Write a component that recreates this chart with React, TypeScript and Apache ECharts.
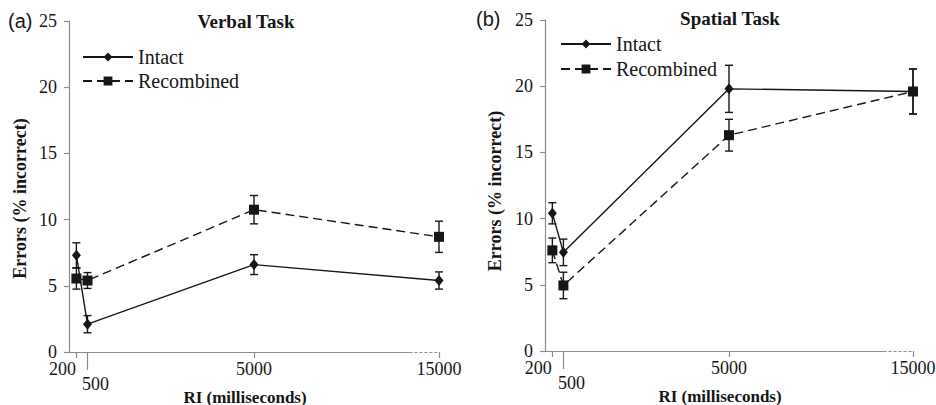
import { useEffect, useRef } from 'react';
import * as echarts from 'echarts';

// ---- data ----
const RI_MS = [200, 500, 5000, 15000];
const X_TICK_LABELS = ['200', '500', '5000', '15000'];
const Y_MIN = 0;
const Y_MAX = 25;
const Y_STEP = 5;

const VERBAL_INTACT = [7.3, 2.1, 6.6, 5.4];
const VERBAL_INTACT_ERR = [0.95, 0.65, 0.75, 0.65];
const VERBAL_RECOMB = [5.55, 5.4, 10.75, 8.7];
const VERBAL_RECOMB_ERR = [0.8, 0.6, 1.07, 1.18];

const SPATIAL_INTACT = [10.4, 7.45, 19.8, 19.6];
const SPATIAL_INTACT_ERR = [0.8, 1.0, 1.78, 1.7];
const SPATIAL_RECOMB = [7.6, 4.95, 16.3, 19.6];
const SPATIAL_RECOMB_ERR = [0.93, 1.0, 1.2, 1.7];

const PANEL_LABELS = ['(a)', '(b)'];
const PANEL_TITLES = ['Verbal Task', 'Spatial Task'];
const SERIES_NAMES = ['Intact', 'Recombined'];
const X_NAME = 'RI (milliseconds)';
const Y_NAME = 'Errors (% incorrect)';

// broken x axis: beyond 5000 ms the scale is compressed
const BREAK_MS = 5000;
const toAxis = (ms: number) => (ms <= BREAK_MS ? ms : BREAK_MS + (ms - BREAK_MS) / 2);
const X_MAX = toAxis(15000);
const DOTTED_FROM = 9200;

const SERIF = 'Liberation Serif';
const SANS = 'Liberation Sans';
const INK = '#161616';
const AXIS = '#8a8a8a';

const GRIDS = [
  { left: 69, top: 21, width: 370, height: 331 },
  { left: 545, top: 20, width: 368, height: 331 },
];

export default function App() {
  const ref = useRef<HTMLDivElement>(null);

  useEffect(() => {
    if (!ref.current) return;
    const chart = echarts.init(ref.current, undefined, { renderer: 'svg' });

    const panels = [
      { values: [VERBAL_INTACT, VERBAL_RECOMB], errs: [VERBAL_INTACT_ERR, VERBAL_RECOMB_ERR] },
      { values: [SPATIAL_INTACT, SPATIAL_RECOMB], errs: [SPATIAL_INTACT_ERR, SPATIAL_RECOMB_ERR] },
    ];

    const labelFormatter = (value: number) => {
      const i = RI_MS.findIndex((ms) => Math.abs(toAxis(ms) - value) < 1);
      if (i < 0) return '';
      if (i === 0) return `{l|${X_TICK_LABELS[i]}}`;
      if (i === 1) return `{r|${X_TICK_LABELS[i]}}`;
      return `{n|${X_TICK_LABELS[i]}}`;
    };

    const richBase = { fontFamily: SERIF, fontSize: 18, color: INK };

    const xAxes: any[] = [];
    const yAxes: any[] = [];
    GRIDS.forEach((_, g) => {
      xAxes.push({
        type: 'value',
        gridIndex: g,
        position: 'bottom',
        min: 0,
        max: X_MAX,
        axisLine: { show: false },
        splitLine: { show: false },
        axisTick: {
          show: true,
          length: 6,
          customValues: [RI_MS[0], RI_MS[2], RI_MS[3]].map(toAxis),
          lineStyle: { color: AXIS, width: 1.2 },
        },
        axisLabel: {
          show: true,
          customValues: RI_MS.map(toAxis),
          formatter: labelFormatter,
          showMinLabel: true,
          showMaxLabel: true,
          hideOverlap: false,
          margin: 8,
          fontFamily: SERIF,
          fontSize: 18,
          color: INK,
          rich: {
            l: { ...richBase, padding: [0, 28, 0, 0] },
            r: { ...richBase, padding: [15, 0, 0, 16] },
            n: { ...richBase },
          },
        },
        name: X_NAME,
        nameLocation: 'middle',
        nameGap: 37,
        nameMoveOverlap: false,
        nameTextStyle: {
          fontFamily: SERIF,
          fontWeight: 'bold',
          fontSize: 17,
          color: INK,
          lineHeight: 16,
          padding: [0, 18, 0, 0],
        },
      });
    });
    GRIDS.forEach((_, g) => {
      xAxes.push({
        type: 'value',
        gridIndex: g,
        position: 'bottom',
        min: 0,
        max: X_MAX,
        axisLine: { show: false },
        splitLine: { show: false },
        axisLabel: { show: false },
        axisTick: {
          show: true,
          length: 18,
          customValues: [toAxis(RI_MS[1])],
          lineStyle: { color: AXIS, width: 1.2 },
        },
      });
      yAxes.push({
        type: 'value',
        gridIndex: g,
        min: Y_MIN,
        max: Y_MAX,
        interval: Y_STEP,
        axisLine: { show: true, lineStyle: { color: AXIS, width: 1.2 } },
        axisTick: { show: true, length: 5, lineStyle: { color: AXIS, width: 1.2 } },
        splitLine: { show: false },
        axisLabel: { margin: 12, fontFamily: SERIF, fontSize: 18, color: INK, showMinLabel: true },
        name: Y_NAME,
        nameLocation: 'middle',
        nameGap: g === 0 ? 40 : 41,
        nameMoveOverlap: false,
        nameTextStyle: {
          fontFamily: SERIF,
          fontWeight: 'bold',
          fontSize: 18,
          color: INK,
          padding: g === 0 ? [0, 24, 0, 0] : [0, 11, 0, 0],
        },
      });
    });

    const series: any[] = [];
    panels.forEach((p, g) => {
      // error bars
      p.values.forEach((vals, s) => {
        series.push({
          type: 'custom',
          xAxisIndex: g,
          yAxisIndex: g,
          silent: true,
          z: 1,
          data: vals.map((v, i) => [toAxis(RI_MS[i]), v, p.errs[s][i]]),
          encode: { x: 0, y: 1 },
          renderItem: (params: any, api: any) => {
            const x = api.value(0);
            const y = api.value(1);
            const e = api.value(2);
            const top = api.coord([x, y + e]);
            const bot = api.coord([x, y - e]);
            const h = 4;
            const st = { stroke: INK, lineWidth: 1.4 };
            return {
              type: 'group',
              children: [
                { type: 'line', shape: { x1: top[0], y1: top[1], x2: bot[0], y2: bot[1] }, style: st },
                { type: 'line', shape: { x1: top[0] - h, y1: top[1], x2: top[0] + h, y2: top[1] }, style: st },
                { type: 'line', shape: { x1: bot[0] - h, y1: bot[1], x2: bot[0] + h, y2: bot[1] }, style: st },
              ],
            };
          },
        });
      });
      // lines
      p.values.forEach((vals, s) => {
        const line: any = {
          type: 'line',
          name: SERIES_NAMES[s],
          xAxisIndex: g,
          yAxisIndex: g,
          z: 3,
          data: vals.map((v, i) => [toAxis(RI_MS[i]), v]),
          symbol: s === 0 ? 'diamond' : 'rect',
          symbolSize: s === 0 ? [9, 11] : 10,
          showSymbol: true,
          color: INK,
          itemStyle: { color: INK },
          lineStyle: { color: INK, width: 1.4, type: s === 0 ? 'solid' : [9, 5] },
        };
        if (s === 0) {
          line.markLine = {
            silent: true,
            symbol: ['none', 'none'],
            label: { show: false },
            animation: false,
            data: [
              [
                { coord: [0, 0], lineStyle: { color: AXIS, width: 1.2, type: 'solid' } },
                { coord: [DOTTED_FROM, 0] },
              ],
              [
                { coord: [DOTTED_FROM, 0], lineStyle: { color: AXIS, width: 1.2, type: [3, 2] } },
                { coord: [X_MAX, 0] },
              ],
            ],
          };
        }
        series.push(line);
      });
    });

    const legendText = { fontFamily: SERIF, fontSize: 20, color: INK, lineHeight: 20 };

    chart.setOption({
      animation: false,
      backgroundColor: '#ffffff',
      title: [
        { text: PANEL_LABELS[0], left: 8, top: 11, padding: 0, textStyle: { fontFamily: SANS, fontSize: 20, fontWeight: 'normal', color: INK } },
        { text: PANEL_LABELS[1], left: 476, top: 9, padding: 0, textStyle: { fontFamily: SANS, fontSize: 20, fontWeight: 'normal', color: INK } },
        { text: PANEL_TITLES[0], left: 246, textAlign: 'center', top: 12, padding: 0, textStyle: { fontFamily: SERIF, fontSize: 19, fontWeight: 'bold', color: INK } },
        { text: PANEL_TITLES[1], left: 730, textAlign: 'center', top: 9, padding: 0, textStyle: { fontFamily: SERIF, fontSize: 19, fontWeight: 'bold', color: INK } },
      ],
      legend: [
        {
          orient: 'vertical', left: 82, top: 47, padding: 0,
          itemWidth: 50, itemHeight: 11, itemGap: 4,
          selectedMode: false, data: SERIES_NAMES, textStyle: legendText,
        },
        {
          orient: 'vertical', left: 560, top: 34, padding: 0,
          itemWidth: 50, itemHeight: 11, itemGap: 5,
          selectedMode: false, data: SERIES_NAMES, textStyle: legendText,
        },
      ],
      grid: GRIDS.map((gr) => ({ ...gr, containLabel: false, outerBoundsMode: 'none' })),
      xAxis: xAxes,
      yAxis: yAxes,
      series,
    });

    return () => chart.dispose();
  }, []);

  return (
    <div
      ref={ref}
      style={{ position: 'fixed', left: 0, top: 0, width: 936, height: 405, background: '#fff' }}
    />
  );
}
